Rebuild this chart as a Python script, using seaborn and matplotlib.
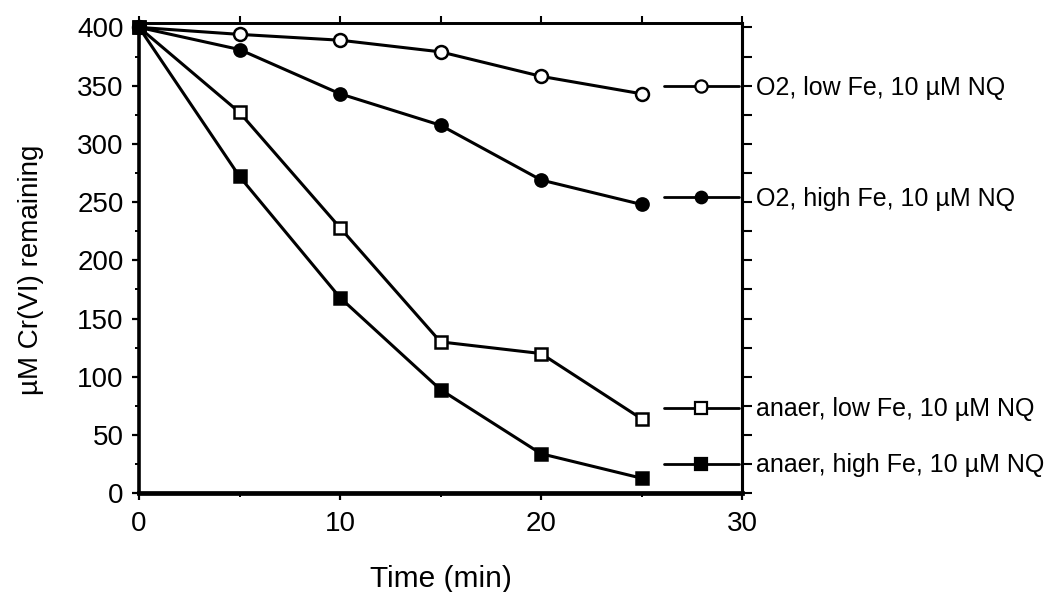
import numpy as np
import pandas as pd
import seaborn as sns
import matplotlib
matplotlib.use("Agg")
import matplotlib.pyplot as plt
from matplotlib.ticker import MultipleLocator, FixedLocator
from matplotlib.lines import Line2D
from matplotlib.legend import Legend

# Cr(VI) remaining over time under four incubation conditions
time_min = [0, 5, 10, 15, 20, 25]
o2_low_fe = [400, 394, 389, 379, 358, 343]
o2_high_fe = [400, 381, 343, 316, 269, 248]
anaer_low_fe = [400, 327, 228, 130, 120, 64]
anaer_high_fe = [400, 272, 168, 89, 34, 13]

series_labels = [
    "O2, low Fe, 10 µM NQ",
    "O2, high Fe, 10 µM NQ",
    "anaer, low Fe, 10 µM NQ",
    "anaer, high Fe, 10 µM NQ",
]

x_ticks = [0, 10, 20, 30]
y_ticks = [0, 50, 100, 150, 200, 250, 300, 350, 400]

# key rows placed beside the right-hand axis
key_rows = [348, 253, 72, 24]

sns.set_style("ticks")
plt.rcParams["font.family"] = ["Liberation Sans", "DejaVu Sans"]
plt.rcParams.update({
    "text.color": "black",
    "axes.labelcolor": "black",
    "xtick.color": "black",
    "ytick.color": "black",
})

df = pd.DataFrame({
    "Time": time_min * 4,
    "Cr": o2_low_fe + o2_high_fe + anaer_low_fe + anaer_high_fe,
    "cond": np.repeat(series_labels, len(time_min)),
})

fig = plt.figure(figsize=(10.54, 5.92), dpi=100)
ax = fig.add_axes([0.1319, 0.1667, 0.5721, 0.7949])

styles = {
    series_labels[0]: dict(marker="o", mfc="white", ms=9.3),
    series_labels[1]: dict(marker="o", mfc="black", ms=8.8),
    series_labels[2]: dict(marker="s", mfc="white", ms=8.8),
    series_labels[3]: dict(marker="s", mfc="black", ms=8.8),
}

for lab in series_labels:
    st = styles[lab]
    sns.lineplot(data=df[df["cond"] == lab], x="Time", y="Cr", ax=ax,
                 color="black", lw=2.2, marker=st["marker"],
                 markerfacecolor=st["mfc"], markeredgecolor="black",
                 markeredgewidth=1.8, markersize=st["ms"], clip_on=False,
                 zorder=3)

ax.set_xlim(0, 30)
ax.set_ylim(0, 404)
ax.xaxis.set_major_locator(FixedLocator(x_ticks))
ax.xaxis.set_minor_locator(MultipleLocator(5))
ax.yaxis.set_major_locator(FixedLocator(y_ticks))
ax.yaxis.set_minor_locator(MultipleLocator(25))

ax.tick_params(axis="both", which="major", direction="out", length=5,
               width=1.6, labelsize=20, color="black")
ax.tick_params(axis="x", which="major", pad=8)
ax.tick_params(axis="y", which="major", pad=6)
ax.tick_params(axis="both", which="minor", direction="out", length=3,
               width=1.4, color="black")

ax.spines["left"].set_linewidth(2.6)
ax.spines["bottom"].set_linewidth(3.4)
ax.spines["top"].set_linewidth(2.0)
ax.spines["right"].set_linewidth(2.2)
for s in ax.spines.values():
    s.set_color("black")

# tick marks on the top and right edges
top = ax.secondary_xaxis("top")
top.xaxis.set_major_locator(MultipleLocator(5))
top.tick_params(direction="out", length=5, width=1.5, labeltop=False)
top.spines["top"].set_linewidth(2.0)
right = ax.secondary_yaxis("right")
right.yaxis.set_major_locator(MultipleLocator(25))
right.tick_params(direction="out", length=7, width=1.5, labelright=False)
right.spines["right"].set_linewidth(2.2)

ax.set_xlabel("Time (min)", fontsize=21.5, labelpad=20)
ax.set_ylabel("µM Cr(VI) remaining", fontsize=20, labelpad=24)
ax.yaxis.label.set_y(0.475)

# one key row per condition, anchored beside its curve end
for lab, ky in zip(series_labels, key_rows):
    st = styles[lab]
    h = Line2D([], [], color="black", lw=2.0, marker=st["marker"],
               markerfacecolor=st["mfc"], markeredgecolor="black",
               markeredgewidth=1.6, markersize=st["ms"] - 0.5)
    leg = Legend(ax, [h], [lab], loc="center left",
                 bbox_to_anchor=(26.1, ky), bbox_transform=ax.transData,
                 frameon=False, fontsize=18, handlelength=3.0,
                 handletextpad=0.7, borderpad=0, borderaxespad=0,
                 numpoints=1)
    ax.add_artist(leg)

fig.savefig("out.png", dpi=100)
